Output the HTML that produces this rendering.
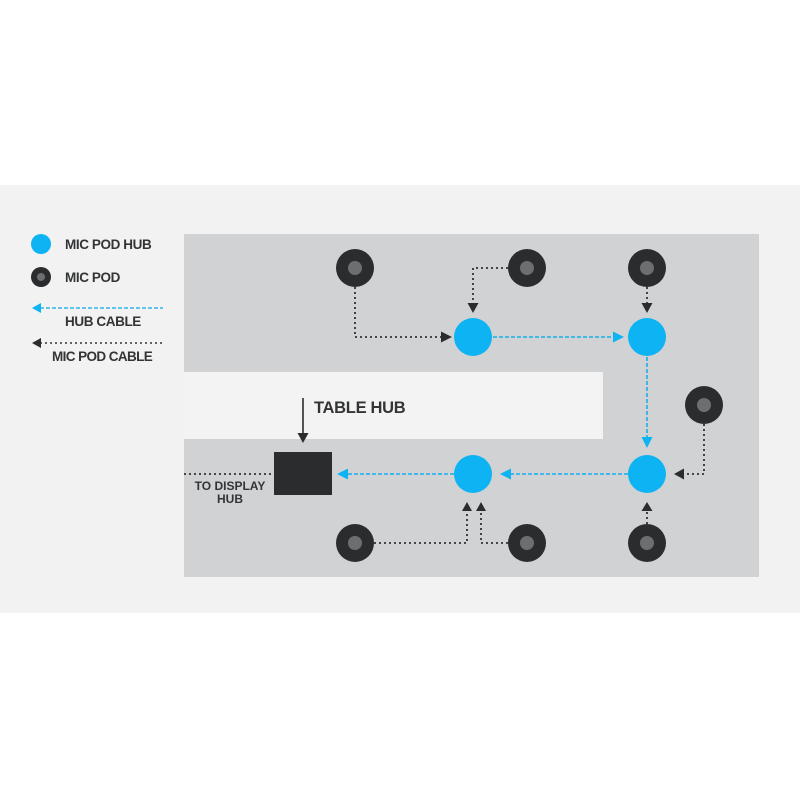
<!DOCTYPE html>
<html><head><meta charset="utf-8"><style>
html,body{margin:0;padding:0;background:#fff;}
svg{display:block;}
text{font-family:"Liberation Sans",sans-serif;font-weight:bold;fill:#333436;}
</style></head><body>
<svg width="800" height="800" viewBox="0 0 800 800" xmlns="http://www.w3.org/2000/svg">
<rect x="0" y="0" width="800" height="800" fill="#ffffff"/>
<rect x="0" y="185" width="800" height="428" fill="#f2f2f2"/>
<!-- table -->
<rect x="184" y="234" width="575" height="343" fill="#d1d2d4"/>
<rect x="184" y="372" width="419" height="67" fill="#f3f3f3"/>

<!-- legend -->
<circle cx="41" cy="244" r="10" fill="#0db3f3"/>
<circle cx="41" cy="277" r="10" fill="#2b2c2e"/>
<circle cx="41" cy="277" r="4" fill="#6d6e70"/>
<text x="65" y="249" font-size="13.5" letter-spacing="-0.4">MIC POD HUB</text>
<text x="65" y="282" font-size="13.5" letter-spacing="-0.4">MIC POD</text>
<line x1="40" y1="308" x2="163" y2="308" stroke="#2fb4e6" stroke-width="1.6" stroke-dasharray="4,2"/>
<polygon points="32,308 41,303 41,313" fill="#0db3f3"/>
<text x="65" y="326" font-size="13.5" letter-spacing="-0.4">HUB CABLE</text>
<line x1="40" y1="343" x2="163" y2="343" stroke="#333" stroke-width="1.6" stroke-dasharray="2,3"/>
<polygon points="32,343 41,338 41,348" fill="#2b2c2e"/>
<text x="52" y="361" font-size="13.5" letter-spacing="-0.6">MIC POD CABLE</text>

<!-- mic pod cables (black dotted) -->
<g stroke="#333" stroke-width="1.8" stroke-dasharray="2,3" fill="none">
<polyline points="355,287 355,337 441,337"/>
<polyline points="508,268 473,268 473,303"/>
<polyline points="647,287 647,303"/>
<polyline points="704,424 704,474 683,474"/>
<polyline points="647,524 647,511"/>
<polyline points="374,543 467,543 467,511"/>
<polyline points="508,543 481,543 481,511"/>
<polyline points="184,474 274,474"/>
</g>
<g fill="#2b2c2e">
<polygon points="452,337 441,331.5 441,342.5"/>
<polygon points="473,313 467.5,303 478.5,303"/>
<polygon points="647,313 641.5,303 652.5,303"/>
<polygon points="674,474 684,468.5 684,479.5"/>
<polygon points="647,502 641.5,511 652.5,511"/>
<polygon points="467,502 462,511 472,511"/>
<polygon points="481,502 476,511 486,511"/>
</g>

<!-- hub cables (blue dashed) -->
<g stroke="#2fb4e6" stroke-width="1.8" stroke-dasharray="4,2" fill="none">
<line x1="493" y1="337" x2="614" y2="337"/>
<line x1="647" y1="357" x2="647" y2="438"/>
<line x1="628" y1="474" x2="510" y2="474"/>
<line x1="454" y1="474" x2="347" y2="474"/>
</g>
<g fill="#0db3f3">
<polygon points="624,337 613,331.5 613,342.5"/>
<polygon points="647,448 641.5,437 652.5,437"/>
<polygon points="500,474 511,468.5 511,479.5"/>
<polygon points="337,474 348,468.5 348,479.5"/>
</g>

<!-- hubs -->
<g fill="#0db3f3">
<circle cx="473" cy="337" r="19"/>
<circle cx="647" cy="337" r="19"/>
<circle cx="647" cy="474" r="19"/>
<circle cx="473" cy="474" r="19"/>
</g>

<!-- mic pods -->
<g fill="#2b2c2e">
<circle cx="355" cy="268" r="19"/>
<circle cx="527" cy="268" r="19"/>
<circle cx="647" cy="268" r="19"/>
<circle cx="704" cy="405" r="19"/>
<circle cx="355" cy="543" r="19"/>
<circle cx="527" cy="543" r="19"/>
<circle cx="647" cy="543" r="19"/>
</g>
<g fill="#6d6e70">
<circle cx="355" cy="268" r="7"/>
<circle cx="527" cy="268" r="7"/>
<circle cx="647" cy="268" r="7"/>
<circle cx="704" cy="405" r="7"/>
<circle cx="355" cy="543" r="7"/>
<circle cx="527" cy="543" r="7"/>
<circle cx="647" cy="543" r="7"/>
</g>

<!-- table hub -->
<rect x="274" y="452" width="58" height="43" fill="#2b2c2e"/>
<line x1="303" y1="398" x2="303" y2="434" stroke="#2b2c2e" stroke-width="1.6"/>
<polygon points="303,443 297.5,433 308.5,433" fill="#2b2c2e"/>
<text x="314" y="413" font-size="16.5" letter-spacing="-0.3">TABLE HUB</text>
<text x="230" y="490" font-size="12" text-anchor="middle">TO DISPLAY</text>
<text x="230" y="503" font-size="12" text-anchor="middle">HUB</text>
</svg>
</body></html>
